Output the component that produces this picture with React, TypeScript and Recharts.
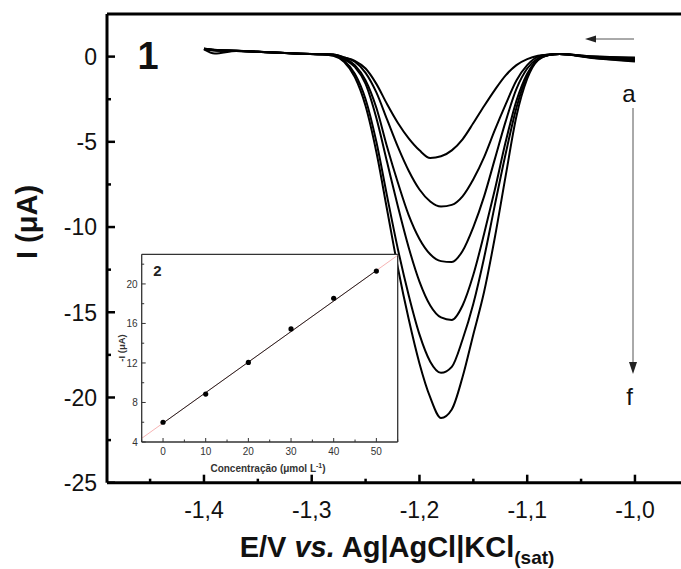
import React from 'react';
import { LineChart, Line, XAxis, YAxis, ReferenceLine, ComposedChart } from 'recharts';

// ---------- main voltammograms ----------
const potentials = [-1.40, -1.39, -1.37, -1.35, -1.33, -1.31, -1.29, -1.28, -1.27, -1.26, -1.25, -1.24, -1.23, -1.22, -1.21, -1.20, -1.19, -1.18, -1.17, -1.16, -1.15, -1.14, -1.13, -1.12, -1.11, -1.10, -1.09, -1.08, -1.07, -1.04, -1.00];
const curveA = [0.42, 0.18, 0.33, 0.28, 0.22, 0.17, 0.14, 0.12, -0.05, -0.25, -0.7, -1.6, -2.8, -3.9, -4.8, -5.5, -5.95, -5.85, -5.5, -4.85, -3.9, -2.9, -1.95, -1.1, -0.5, -0.15, 0.05, 0.12, 0.15, 0.02, -0.05];
const curveB = [0.45, 0.36, 0.33, 0.28, 0.22, 0.17, 0.14, 0.12, -0.05, -0.3, -0.95, -2.1, -3.7, -5.3, -6.7, -7.8, -8.5, -8.8, -8.7, -8.2, -7.2, -5.9, -4.3, -2.8, -1.4, -0.5, 0.0, 0.12, 0.15, 0.0, -0.1];
const curveC = [0.45, 0.38, 0.34, 0.28, 0.22, 0.17, 0.14, 0.11, -0.1, -0.5, -1.4, -3.0, -5.3, -7.4, -9.3, -10.7, -11.6, -12.0, -12.05, -11.4, -10.0, -8.2, -6.0, -3.8, -1.9, -0.7, -0.1, 0.1, 0.15, -0.02, -0.15];
const curveD = [0.46, 0.38, 0.34, 0.28, 0.22, 0.17, 0.14, 0.1, -0.15, -0.6, -1.6, -3.6, -6.2, -8.8, -11.2, -13.2, -14.6, -15.3, -15.45, -14.6, -12.8, -10.4, -7.8, -5.0, -2.6, -1.0, -0.2, 0.1, 0.15, -0.04, -0.2];
const curveE = [0.46, 0.39, 0.34, 0.29, 0.23, 0.17, 0.14, 0.08, -0.25, -1.0, -2.5, -5.0, -8.2, -11.3, -14.0, -16.3, -17.9, -18.55, -18.2, -16.6, -14.5, -11.8, -8.7, -5.7, -3.0, -1.1, -0.15, 0.1, 0.15, -0.06, -0.25];
const curveF = [0.47, 0.4, 0.35, 0.29, 0.23, 0.17, 0.13, 0.05, -0.3, -1.2, -2.9, -5.6, -9.0, -12.4, -15.4, -18.0, -20.0, -21.2, -20.7, -18.8, -16.3, -13.8, -10.6, -7.0, -3.5, -1.3, -0.2, 0.1, 0.15, -0.08, -0.28];

const mainXTicks = [-1.45, -1.4, -1.35, -1.3, -1.25, -1.2, -1.15, -1.1, -1.05, -1.0, -0.95];
const mainYTicks = [-25, -22.5, -20, -17.5, -15, -12.5, -10, -7.5, -5, -2.5, 0];

// ---------- inset calibration ----------
const concentrations = [0, 10, 20, 30, 40, 50];
const peakCurrents = [6.0, 8.85, 12.05, 15.45, 18.55, 21.3];
const fitConc = [-5, 0, 50, 55];
const fitCurrent = [4.37, 5.91, 21.36, 22.9];
const insetXTicks = [-5, 0, 5, 10, 15, 20, 25, 30, 35, 40, 45, 50, 55];
const insetYTicks = [4, 6, 8, 10, 12, 14, 16, 18, 20, 22];

const FONT = '"Liberation Sans", Arial, Helvetica, sans-serif';

const mainData = potentials.map((E, i) => ({
  E,
  a: curveA[i], b: curveB[i], c: curveC[i], d: curveD[i], e: curveE[i], f: curveF[i],
}));
const pointRows = concentrations.map((c, i) => ({ c, v: peakCurrents[i] }));
const redRows = [{ c: fitConc[0], v: fitCurrent[0] }, { c: fitConc[3], v: fitCurrent[3] }];
const blackRows = [{ c: fitConc[1], v: fitCurrent[1] }, { c: fitConc[2], v: fitCurrent[2] }];

const isMult = (v: number, step: number) => Math.abs(v / step - Math.round(v / step)) < 1e-6;

const MainXTick = (p: any) => {
  const v = p.payload.value;
  const major = isMult(v, 0.1);
  return (
    <g>
      <line x1={p.x} x2={p.x} y1={p.y} y2={p.y - (major ? 8 : 4)} stroke="#000" strokeWidth={2.5} />
      {major && (
        <text x={p.x} y={p.y + 35} textAnchor="middle" fontSize={23} fontFamily={FONT} fill="#111">
          {v.toFixed(1).replace('.', ',')}
        </text>
      )}
    </g>
  );
};

const MainYTick = (p: any) => {
  const v = p.payload.value;
  const major = isMult(v, 5);
  return (
    <g>
      <line x1={p.x} x2={p.x + (major ? 8 : 4)} y1={p.y} y2={p.y} stroke="#000" strokeWidth={2.5} />
      {major && (
        <text x={p.x - 10} y={p.y} dy="0.36em" textAnchor="end" fontSize={23} fontFamily={FONT} fill="#111">
          {String(v)}
        </text>
      )}
    </g>
  );
};

const InsetXTick = (p: any) => {
  const v = p.payload.value;
  const major = isMult(v, 10);
  return (
    <g>
      <line x1={p.x} x2={p.x} y1={p.y} y2={p.y - (major ? 4 : 2.5)} stroke="#333" strokeWidth={1} />
      {major && (
        <text x={p.x} y={p.y + 13} textAnchor="middle" fontSize={10} fontFamily={FONT} fill="#333">
          {String(v)}
        </text>
      )}
    </g>
  );
};

const InsetYTick = (p: any) => {
  const v = p.payload.value;
  const major = isMult(v, 4);
  return (
    <g>
      <line x1={p.x} x2={p.x + (major ? 4 : 2.5)} y1={p.y} y2={p.y} stroke="#333" strokeWidth={1} />
      {major && (
        <text x={p.x - 4} y={p.y} dy="0.36em" textAnchor="end" fontSize={10} fontFamily={FONT} fill="#333">
          {String(v)}
        </text>
      )}
    </g>
  );
};

const curveKeys = ['a', 'b', 'c', 'd', 'e', 'f'];

export default function App() {
  return (
    <div style={{ position: 'fixed', left: 0, top: 0, width: 681, height: 569, overflow: 'hidden', background: '#fff' }}>
      <div style={{ position: 'absolute', left: 0, top: 0 }}>
        <LineChart width={700} height={569} data={mainData} margin={{ left: 47, top: 14, right: 0.4, bottom: 46.3 }}>
          <XAxis dataKey="E" type="number" domain={[-1.49, -0.94]} ticks={mainXTicks} interval={0}
            height={40} tickSize={0} tickMargin={0} tickLine={false} axisLine={{ stroke: '#000', strokeWidth: 3 }}
            tick={MainXTick} allowDataOverflow />
          <YAxis type="number" domain={[-25, 2.5]} ticks={mainYTicks} interval={0}
            width={60} tickSize={0} tickMargin={0} tickLine={false} axisLine={{ stroke: '#000', strokeWidth: 3 }}
            tick={MainYTick} allowDataOverflow />
          <ReferenceLine y={2.5} stroke="#000" strokeWidth={3} />
          {curveKeys.map((k) => (
            <Line key={k} type="monotone" dataKey={k} stroke="#000" strokeWidth={2} dot={false} isAnimationActive={false} />
          ))}
        </LineChart>
      </div>

      <div style={{ position: 'absolute', left: 141.7, top: 254.3, width: 256, height: 187.7, background: '#fff' }} />
      <div style={{ position: 'absolute', left: 100, top: 240 }}>
        <ComposedChart width={310} height={240} margin={{ left: 11.7, top: 14.3, right: 12.3, bottom: 18 }}>
          <XAxis dataKey="c" type="number" domain={[-5, 55]} ticks={insetXTicks} interval={0}
            height={20} tickSize={0} tickMargin={0} tickLine={false} axisLine={{ stroke: '#333', strokeWidth: 1.3 }}
            tick={InsetXTick} allowDataOverflow />
          <YAxis type="number" domain={[4, 23]} ticks={insetYTicks} interval={0}
            width={30} tickSize={0} tickMargin={0} tickLine={false} axisLine={{ stroke: '#333', strokeWidth: 1.3 }}
            tick={InsetYTick} allowDataOverflow />
          <ReferenceLine y={23} stroke="#333" strokeWidth={1.3} />
          <ReferenceLine x={55} stroke="#333" strokeWidth={1.3} />
          <Line data={redRows} dataKey="v" type="linear" stroke="#f4a0a0" strokeWidth={0.8} dot={false} isAnimationActive={false} />
          <Line data={blackRows} dataKey="v" type="linear" stroke="#222" strokeWidth={1} dot={false} isAnimationActive={false} />
          <Line data={pointRows} dataKey="v" type="linear" stroke="none" dot={{ r: 2.6, fill: '#000', stroke: 'none' }} isAnimationActive={false} />
        </ComposedChart>
      </div>

      <svg width={681} height={569} style={{ position: 'absolute', left: 0, top: 0, pointerEvents: 'none' }} fontFamily={FONT}>
        <text x={148} y={69} textAnchor="middle" fontSize={38} fontWeight="bold" fill="#111">1</text>
        <text x={157.5} y={276} textAnchor="middle" fontSize={15} fontWeight="bold" fill="#222">2</text>

        <line x1={634} y1={39} x2={594} y2={39} stroke="#555" strokeWidth={1} />
        <polygon points="585,39 596,35.5 596,42.5" fill="#222" />
        <text x={629} y={102} textAnchor="middle" fontSize={24} fill="#111">a</text>
        <line x1={633} y1={108} x2={633} y2={364} stroke="#555" strokeWidth={1} />
        <polygon points="633,374 629,362 637,362" fill="#222" />
        <text x={629.5} y={405} textAnchor="middle" fontSize={24} fill="#111">f</text>

        <text transform="translate(37,222) rotate(-90)" textAnchor="middle" fontSize={29} fontWeight="bold" fill="#111">
          I (μA)
        </text>
        <text x={397} y={557} textAnchor="middle" fontSize={29} fontWeight="bold" fill="#111">
          E/V <tspan fontStyle="italic">vs.</tspan> Ag|AgCl|KCl<tspan fontSize={19} dy={7}>(sat)</tspan>
        </text>

        <text transform="translate(125,348) rotate(-90)" textAnchor="middle" fontSize={9.5} fontWeight="bold" fill="#333">
          -I (μA)
        </text>
        <text x={268} y={472} textAnchor="middle" fontSize={10} fontWeight="bold" fill="#333">
          Concentração (μmol L<tspan fontSize={7} dy={-4}>-1</tspan><tspan dy={4}>)</tspan>
        </text>
      </svg>
    </div>
  );
}
